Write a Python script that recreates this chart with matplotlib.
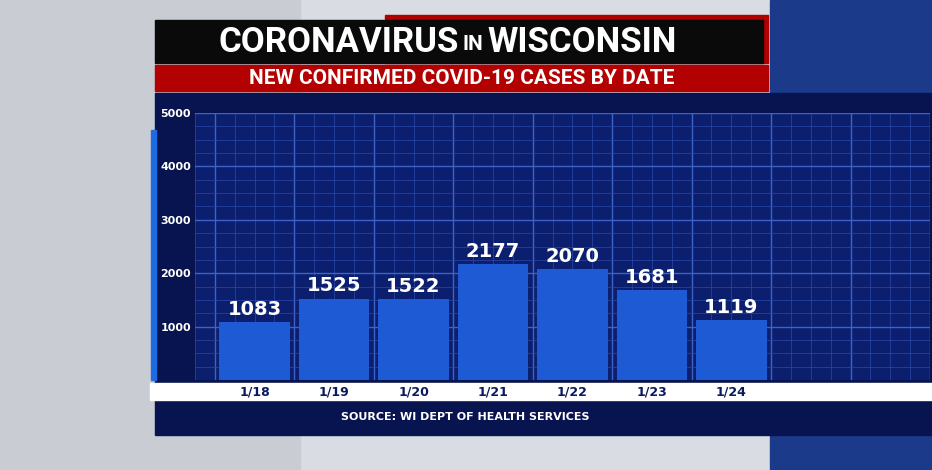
import matplotlib
matplotlib.use("Agg")
import matplotlib.pyplot as plt
from matplotlib.patches import Rectangle
from matplotlib.transforms import blended_transform_factory

dates = ["1/18", "1/19", "1/20", "1/21", "1/22", "1/23", "1/24"]
cases = [1083, 1525, 1522, 2177, 2070, 1681, 1119]
yticks = [1000, 2000, 3000, 4000, 5000]

W, H = 932, 470
fig = plt.figure(figsize=(W/100, H/100), dpi=100)
fig.patch.set_facecolor("#d9dce2")

def fx(px): return px / W
def fy(py): return 1 - py / H

fig.patches.append(Rectangle((fx(770), 0), 1, 1, transform=fig.transFigure, color="#1c3a8a", zorder=0))
fig.patches.append(Rectangle((0, 0), fx(300), 1, transform=fig.transFigure, color="#c9ccd3", zorder=0))
fig.patches.append(Rectangle((fx(155), fy(435)), fx(777), fy(93) - fy(435), transform=fig.transFigure, color="#07144f", zorder=1))
fig.patches.append(Rectangle((fx(150), fy(400)), fx(782), fy(383) - fy(400), transform=fig.transFigure, color="white", zorder=3))
fig.patches.append(Rectangle((fx(151), fy(380)), fx(5), fy(130) - fy(380), transform=fig.transFigure, color="#1e6ae0", zorder=3))
fig.patches.append(Rectangle((fx(385), fy(63)), fx(383), fy(15) - fy(63), transform=fig.transFigure, color="#b00000", zorder=2))
fig.patches.append(Rectangle((fx(155), fy(63)), fx(608), fy(20) - fy(63), transform=fig.transFigure, color="#0a0a0a", zorder=3))
fig.patches.append(Rectangle((fx(155), fy(91)), fx(613), fy(65) - fy(91), transform=fig.transFigure, color="#b30000", zorder=3))
fig.text(fx(459), fy(42), "CORONAVIRUS", color="white", fontsize=25, fontweight="bold", ha="right", va="center", zorder=5, family="Roboto")
fig.text(fx(462), fy(44), "IN", color="white", fontsize=15, fontweight="bold", ha="left", va="center", zorder=5, family="Roboto")
fig.text(fx(487), fy(42), "WISCONSIN", color="white", fontsize=25, fontweight="bold", ha="left", va="center", zorder=5, family="Roboto")
fig.text(fx(462), fy(78), "NEW CONFIRMED COVID-19 CASES BY DATE", color="white", fontsize=15, fontweight="bold", ha="center", va="center", zorder=5, family="Roboto")
fig.text(fx(465), fy(417), "SOURCE: WI DEPT OF HEALTH SERVICES", color="white", fontsize=8, fontweight="bold", ha="center", va="center", zorder=5)

ax = fig.add_axes([fx(195), fy(380), fx(735), fy(113) - fy(380)], zorder=2)
ax.set_facecolor("#0b1f6e")
x = list(range(len(dates)))
ax.bar(x, cases, width=0.89, color="#1d5ad4", zorder=3)
for xi, v in zip(x, cases):
    ax.text(xi, v + 60, str(v), color="white", fontsize=14, fontweight="bold", ha="center", va="bottom", zorder=4)
ax.set_xlim(-0.593, 8.316)
ax.set_ylim(0, 5000)
ax.set_yticks(yticks)
ax.set_yticks(range(0, 5000, 250), minor=True)
ax.set_xticks([i + 0.5 for i in range(-1, 9)])
ax.set_xticks([i / 4 for i in range(-3, 34)], minor=True)
ax.grid(which="major", color="#3d63c9", lw=1.0, zorder=1)
ax.grid(which="minor", color="#2a4aa8", lw=0.5, zorder=1)
ax.tick_params(length=0, which="both", labelbottom=False)
ax.set_yticklabels([str(t) for t in yticks], color="white", fontsize=8, fontweight="bold")
ax.tick_params(axis="y", pad=3)
for s in ax.spines.values():
    s.set_visible(False)
tr = blended_transform_factory(ax.transData, fig.transFigure)
for xi, d in zip(x, dates):
    t = fig.text(xi, fy(392), d, color="#0a1a5c", fontsize=9, fontweight="bold", ha="center", va="center", zorder=6, transform=tr)

fig.savefig("out.png", dpi=100, facecolor=fig.get_facecolor())
